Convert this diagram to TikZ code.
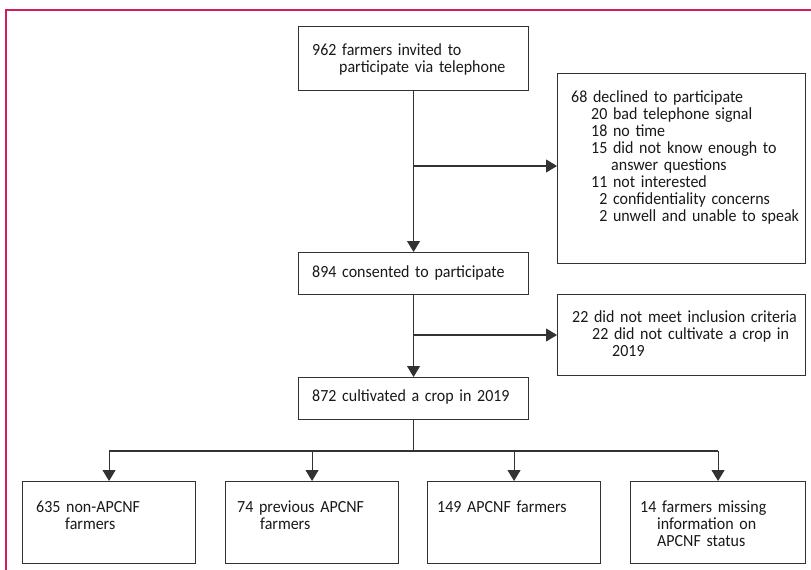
\documentclass[tikz,border=0pt]{standalone}
\usepackage{fontspec}
\setmainfont{Carlito}[FakeStretch=0.94]
\usetikzlibrary{arrows.meta}
\definecolor{framec}{RGB}{214,28,88}
\definecolor{linec}{RGB}{50,50,50}
\definecolor{textc}{RGB}{25,25,25}
\tikzset{
  box/.style={draw=linec, line width=1.1pt, inner sep=0pt, anchor=north west, fill=white},
  txt/.style={anchor=base west, inner sep=0pt, align=left, text width=#1,
    font=\fontsize{17}{17}\selectfont, text=textc},
  arr/.style={draw=linec, line width=1.1pt, -{Triangle[width=13pt,length=11pt]}},
  ln/.style={draw=linec, line width=1.1pt},
}
\begin{document}
\begin{tikzpicture}[x=1pt,y=-1pt]
\useasboundingbox (0,0) rectangle (811,570);
% frame
\draw[framec, line width=1.3pt] (6,571) -- (6,10) -- (812,10);

% main column boxes
\node[box, minimum width=230pt, minimum height=64pt] (b1) at (298,26) {};
\node[box, minimum width=230pt, minimum height=42pt] (b2) at (298,252) {};
\node[box, minimum width=230pt, minimum height=42pt] (b3) at (298,377) {};
% side boxes
\node[box, minimum width=248pt, minimum height=190pt] (r1) at (557,73) {};
\node[box, minimum width=248pt, minimum height=81pt] (r2) at (557,294) {};
% bottom boxes
\node[box, minimum width=173pt, minimum height=82pt] (c1) at (22,481) {};
\node[box, minimum width=173pt, minimum height=82pt] (c2) at (225,481) {};
\node[box, minimum width=173pt, minimum height=82pt] (c3) at (427,481) {};
\node[box, minimum width=175pt, minimum height=82pt] (c4) at (630,481) {};

% texts
\node[txt=210pt] (t1) at ([xshift=14pt,yshift=-29pt]b1.north west)
  {962 farmers invited to\\\hspace*{27pt}participate via telephone};
\node[txt=210pt] (t2) at ([xshift=14pt,yshift=-25pt]b2.north west)
  {894 consented to participate};
\node[txt=210pt] (t3) at ([xshift=14pt,yshift=-24pt]b3.north west)
  {872 cultivated a crop in 2019};
\node[txt=235pt] (tr1) at ([xshift=14pt,yshift=-29pt]r1.north west)
  {68 declined to participate\\
   \hspace*{20pt}20 bad telephone signal\\
   \hspace*{20pt}18 no time\\
   \hspace*{20pt}15 did not know enough to\\
   \hspace*{40pt}answer questions\\
   \hspace*{20pt}11 not interested\\
   \hspace*{20pt}\phantom{2}2 confidentiality concerns\\
   \hspace*{20pt}\phantom{2}2 unwell and unable to speak};
\node[txt=235pt] (tr2) at ([xshift=15pt,yshift=-28pt]r2.north west)
  {22 did not meet inclusion criteria\\
   \hspace*{20pt}22 did not cultivate a crop in\\
   \hspace*{40pt}2019};
\node[txt=160pt] (tc1) at ([xshift=14pt,yshift=-31pt]c1.north west)
  {635 non-APCNF\\\hspace*{29pt}farmers};
\node[txt=160pt] (tc2) at ([xshift=12pt,yshift=-31pt]c2.north west)
  {74 previous APCNF\\\hspace*{23pt}farmers};
\node[txt=160pt] (tc3) at ([xshift=10pt,yshift=-31pt]c3.north west)
  {149 APCNF farmers};
\node[txt=162pt] (tc4) at ([xshift=10pt,yshift=-31pt]c4.north west)
  {14 farmers missing\\\hspace*{17pt}information on\\\hspace*{17pt}APCNF status};

% connectors
\coordinate (k1) at (b1.south |- 0,166);
\coordinate (k2) at (b2.south |- 0,335);
\coordinate (k3) at (b3.south |- 0,451);
\coordinate (h1) at (c1.north |- k3);
\coordinate (h4) at (c4.north |- k3);

\draw[arr] (b1.south) -- (b2.north);
\draw[arr] (k1) -- (k1 -| r1.west);
\draw[arr] (b2.south) -- (b3.north);
\draw[arr] (k2) -- (k2 -| r2.west);
\draw[ln] (b3.south) -- (k3);
\draw[ln] (h1) -- (h4);
\draw[arr] (h1) -- (c1.north);
\draw[arr] (c2.north |- k3) -- (c2.north);
\draw[arr] (c3.north |- k3) -- (c3.north);
\draw[arr] (h4) -- (c4.north);
\end{tikzpicture}
\end{document}
